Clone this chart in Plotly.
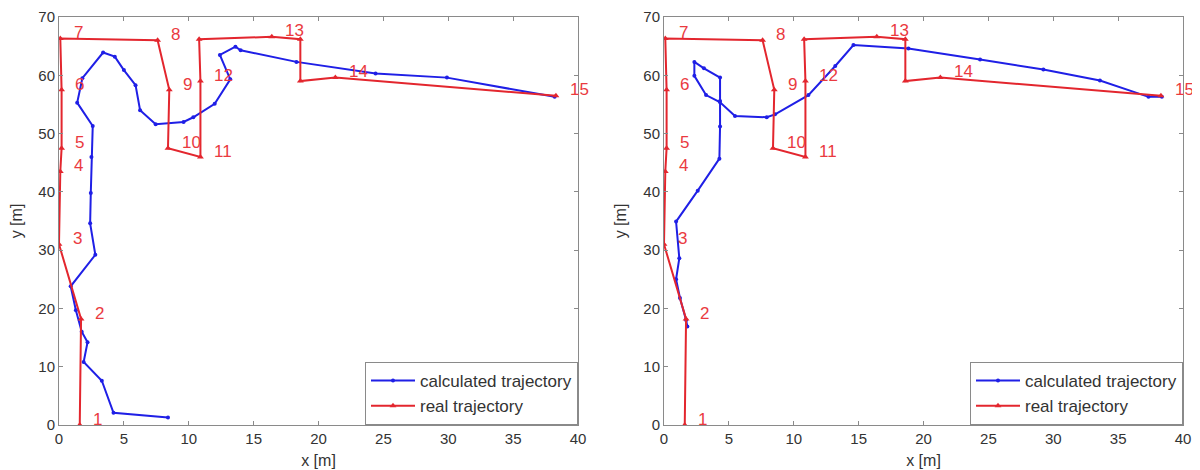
import plotly.graph_objects as go

# real trajectory (same in both panels)
real_x = [1.6, 1.7, 0.0, 0.1, 0.2, 0.2, 0.1, 7.6, 8.5, 8.4, 10.9, 10.9, 10.8, 16.4, 18.6, 18.6, 21.3, 38.3]
real_y = [0.0, 18.2, 31.0, 43.5, 47.5, 57.5, 66.3, 66.0, 57.5, 47.5, 46.0, 59.0, 66.2, 66.6, 66.2, 59.0, 59.6, 56.5]

# numbered reference points
label_text = [str(i) for i in range(1, 16)]
label_x = [1.6, 1.7, 0.0, 0.1, 0.2, 0.2, 0.1, 7.6, 8.5, 8.4, 10.9, 10.9, 16.4, 21.3, 38.3]
label_y = [0.0, 18.2, 31.0, 43.5, 47.5, 57.5, 66.3, 66.0, 57.5, 47.5, 46.0, 59.0, 66.6, 59.6, 56.5]

# calculated trajectory, left panel
calc1_x = [8.4, 4.2, 3.3, 1.9, 2.2, 1.75, 1.3, 0.9, 2.8, 2.4, 2.45, 2.5, 2.6, 1.4, 1.8, 3.4, 4.3, 5.0,
           5.9, 6.25, 7.45, 9.6, 10.35, 12.0, 13.2, 12.4, 13.6, 14.0, 18.3, 24.4, 29.9, 38.2]
calc1_y = [1.3, 2.1, 7.6, 10.8, 14.2, 16.0, 19.7, 23.8, 29.2, 34.6, 39.8, 46.0, 51.3, 55.3, 59.5, 63.9, 63.2, 60.9,
           58.3, 54.0, 51.6, 52.0, 52.8, 55.1, 59.3, 63.5, 64.9, 64.3, 62.3, 60.3, 59.6, 56.3]

# calculated trajectory, right panel
calc2_x = [1.8, 1.7, 1.23, 0.93, 1.18, 0.93, 2.6, 4.27, 4.32, 4.32, 4.32, 3.08, 2.34, 2.34, 3.24, 4.3, 5.47,
           7.92, 8.56, 11.13, 13.2, 14.6, 18.84, 24.36, 29.24, 33.6, 37.34, 38.37]
calc2_y = [16.9, 18.0, 21.8, 25.0, 28.6, 34.9, 40.2, 45.7, 51.2, 55.6, 59.6, 61.2, 62.3, 59.9, 56.6, 55.4, 53.0,
           52.8, 53.3, 56.6, 61.6, 65.2, 64.6, 62.7, 61.0, 59.1, 56.3, 56.3]

x_ticks = [0, 5, 10, 15, 20, 25, 30, 35, 40]
y_ticks = [0, 10, 20, 30, 40, 50, 60, 70]

BLUE = "#1f1fe6"
RED = "#e3262e"
LABEL_RED = "#ea3a3f"
FONT = "Arial, Liberation Sans, Helvetica, sans-serif"

# the page body has an 8px margin: size the figure to fit the window
W, H, OFF = 1192, 462, 8


def fx(px):
    return (px - OFF) / W


def fy(py):
    return 1 - (py - OFF) / H


fig = go.Figure()

panels = [("x", "y", "legend", calc1_x, calc1_y), ("x2", "y2", "legend2", calc2_x, calc2_y)]
for xa, ya, lg, cx, cy in panels:
    fig.add_trace(go.Scatter(
        x=cx, y=cy, xaxis=xa, yaxis=ya, legend=lg, mode="lines+markers",
        name="calculated trajectory", line=dict(color=BLUE, width=2),
        marker=dict(color=BLUE, size=4, symbol="circle")))
    fig.add_trace(go.Scatter(
        x=real_x, y=real_y, xaxis=xa, yaxis=ya, legend=lg, mode="lines+markers",
        name="real trajectory", line=dict(color=RED, width=2),
        marker=dict(color=RED, size=6, symbol="triangle-up")))
    for t, lx, ly in zip(label_text, label_x, label_y):
        fig.add_annotation(x=lx + 0.9, y=ly + 1.0, xref=xa, yref=ya, text=t, showarrow=False,
                           xanchor="left", yanchor="middle",
                           font=dict(family=FONT, size=17, color=LABEL_RED))

axis_common = dict(showline=True, linecolor="#8a8a8a", linewidth=1, mirror="ticks",
                   ticks="inside", ticklen=4, tickcolor="#8a8a8a", showgrid=False,
                   zeroline=False, automargin=False,
                   tickfont=dict(family=FONT, size=15, color="#333333"))

ydom = [fy(425), fy(17)]
legend_common = dict(yanchor="bottom", xanchor="right", y=ydom[0],
                     bgcolor="white", bordercolor="#8a8a8a", borderwidth=1,
                     font=dict(family=FONT, size=17, color="#333333"), tracegroupgap=0,
                     itemwidth=44)
fig.update_layout(
    width=W, height=H,
    margin=dict(l=0, r=0, t=0, b=0),
    paper_bgcolor="white", plot_bgcolor="white",
    font=dict(family=FONT, color="#333333"),
    xaxis=dict(domain=[fx(59), fx(578)], range=[0, 40], tickvals=x_ticks, anchor="y",
               title=dict(text="x [m]", font=dict(size=16), standoff=8), **axis_common),
    yaxis=dict(domain=ydom, range=[0, 70], tickvals=y_ticks, anchor="x",
               title=dict(text="y [m]", font=dict(size=16), standoff=12), **axis_common),
    xaxis2=dict(domain=[fx(664), fx(1183)], range=[0, 40], tickvals=x_ticks, anchor="y2",
                title=dict(text="x [m]", font=dict(size=16), standoff=8), **axis_common),
    yaxis2=dict(domain=ydom, range=[0, 70], tickvals=y_ticks, anchor="x2",
                title=dict(text="y [m]", font=dict(size=16), standoff=12), **axis_common),
    legend=dict(x=fx(578), **legend_common),
    legend2=dict(x=fx(1183), **legend_common),
)

fig.write_html("out.html")
